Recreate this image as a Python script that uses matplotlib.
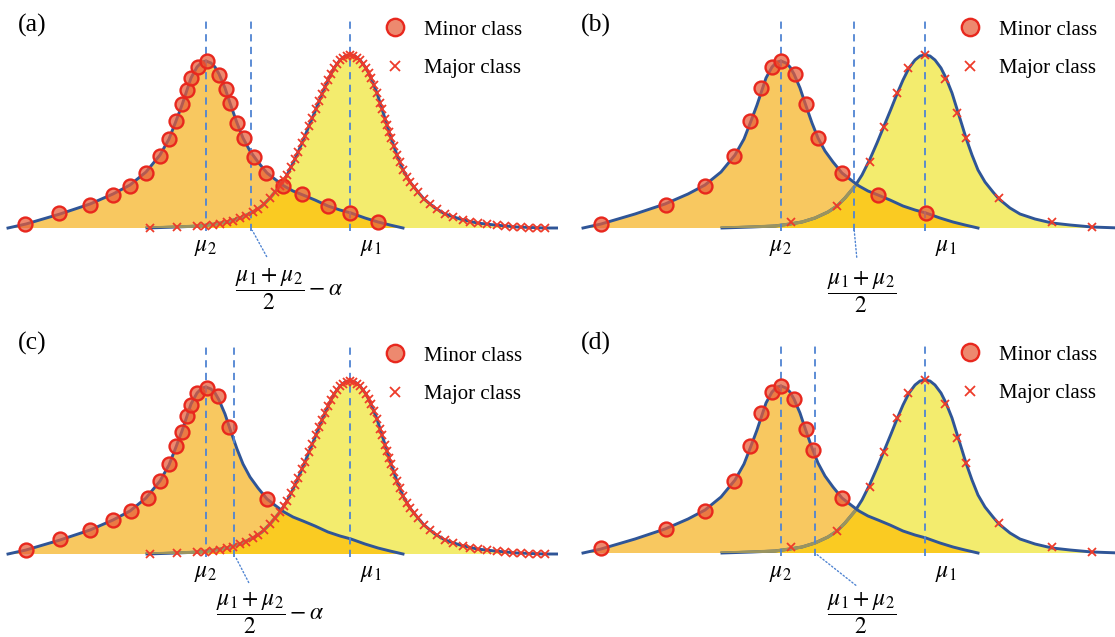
import matplotlib.pyplot as plt

plt.rcParams['font.family'] = 'Liberation Serif'
plt.rcParams['mathtext.fontset'] = 'stix'

# shared density curves (x along the axis, height above baseline)
minor_x = [8, 26, 60, 90, 113, 130, 146, 160, 169, 176, 182, 187, 191, 197, 202, 206, 211, 215, 219,
           225, 230, 237, 243, 250, 258, 267, 276, 284, 293, 303, 315, 328, 340, 351, 365, 378, 390, 403]
minor_h = [0, 4, 14, 24, 34, 43, 56, 73, 89, 107, 123, 138, 150, 161, 166, 167, 165, 161, 154,
           140, 125, 105, 90, 77, 66, 55, 48, 42, 37, 33, 28, 22, 18, 15, 10, 6, 3, 0]

major_x = [147, 177, 200, 215, 227, 240, 253, 262, 270, 280, 287, 295, 302, 309, 316, 322, 328, 334, 340,
           345, 350, 355, 360, 366, 371, 377, 382, 387, 391, 397, 403, 410, 418, 424, 435, 445, 460, 477,
           495, 517, 545, 570]
major_h = [0, 1, 2, 4, 6, 10, 16, 22, 30, 42, 53, 69, 85, 102, 119, 134, 148, 160, 168,
           172, 173, 172, 168, 160, 150, 135, 119, 103, 90, 73, 58, 46, 36, 29, 20, 14, 9, 5,
           3, 1, 0, 0]

# samples drawn on the curves
minor_a_x = [25, 59, 90, 113, 130, 146, 160, 169, 176, 182, 187, 191, 198, 207, 219, 226, 230, 237,
             244, 254, 266, 283, 302, 328, 350, 378]
minor_a_h = [4, 15, 23, 33, 42, 55, 72, 89, 107, 124, 138, 150, 161, 167, 153, 139, 125, 105,
             90, 71, 55, 42, 34, 22, 15, 6]
minor_b_x = [26, 91, 130, 159, 175, 186, 197, 206, 220, 231, 243, 267, 303, 351]
minor_b_h = [4, 23, 42, 72, 107, 140, 161, 167, 154, 124, 90, 55, 33, 15]
minor_c_x = [26, 60, 90, 113, 131, 148, 160, 169, 176, 182, 187, 191, 197, 207, 218, 229, 267]
minor_c_h = [4, 15, 24, 34, 43, 56, 73, 90, 108, 122, 138, 149, 161, 166, 158, 127, 55]
minor_d_x = [26, 91, 130, 159, 175, 186, 197, 206, 219, 231, 238, 267]
minor_d_h = [5, 24, 42, 72, 107, 140, 161, 167, 154, 124, 103, 55]

major_dense_x = [150, 177, 197, 205, 213, 220, 227, 233, 240, 246, 253, 258, 264, 270, 275, 280, 284,
                 287, 291, 295, 298, 302, 305, 309, 312, 316, 319, 322, 325, 328, 331, 334, 337, 340,
                 343, 347, 350, 353, 357, 360, 363, 366, 369, 371, 374, 377, 380, 382, 385, 387, 389,
                 391, 394, 397, 400, 403, 407, 410, 414, 418, 424, 430, 437, 445, 453, 463, 470, 478,
                 487, 497, 505, 513, 521, 529, 537, 545]
major_dense_h = [0, 1, 2, 2, 3, 4, 6, 7, 10, 12, 16, 19, 24, 30, 36, 42, 48,
                 53, 61, 69, 76, 85, 92, 102, 110, 119, 127, 134, 141, 148, 154, 160, 164, 168,
                 170, 172, 173, 172, 170, 168, 164, 160, 155, 150, 143, 135, 125, 119, 109, 103, 96,
                 90, 82, 73, 66, 58, 51, 46, 41, 36, 29, 24, 19, 14, 11, 8, 6, 5,
                 4, 3, 2, 1, 1, 0, 0, 0]
major_sparse_x = [216, 262, 295, 309, 322, 333, 350, 370, 382, 391, 424, 477, 517]
major_sparse_h = [6, 22, 66, 101, 135, 160, 173, 149, 115, 90, 30, 6, 1]

mu2, mu1 = 206, 350
panel_names = ['(a)', '(b)', '(c)', '(d)']
thresholds = [251, 279, 234, 240]
thr_labels = [r'$\dfrac{\mu_1+\mu_2}{2}-\alpha$', r'$\dfrac{\mu_1+\mu_2}{2}$',
              r'$\dfrac{\mu_1+\mu_2}{2}-\alpha$', r'$\dfrac{\mu_1+\mu_2}{2}$']
minor_pts = [(minor_a_x, minor_a_h), (minor_b_x, minor_b_h), (minor_c_x, minor_c_h), (minor_d_x, minor_d_h)]
major_pts = [(major_dense_x, major_dense_h), (major_sparse_x, major_sparse_h),
             (major_dense_x, major_dense_h), (major_sparse_x, major_sparse_h)]

# layout (pixel based)
W, H = 1115, 637
x_shift = [0, 575, 0, 575]
baseline = [228, 228, 554, 553]
label_xy = [(289, -61), (287, -64), (270, -59), (287, -60)]
leader_end = [(268, -31), (282, -32), (250, -31), (283, -34)]
name_x = [18, 23, 18, 23]

c_minor = '#F8C860'
c_major = '#F3EC6E'
c_both = '#FACB22'
c_curve = '#2F5597'
c_dash = '#4F84D2'
c_red = '#E8281E'

fig = plt.figure(figsize=(W / 100, H / 100), dpi=100)

for i in range(4):
    row, col = divmod(i, 2)
    ax = fig.add_axes([col * 0.5, (1 - row) * 0.5, 0.5, 0.5])
    left_px, top_px = col * W / 2, row * H / 2
    ax.set_xlim(left_px - x_shift[i], left_px + W / 2 - x_shift[i])
    ax.set_ylim(baseline[i] - (top_px + H / 2), baseline[i] - top_px)
    ax.axis('off')

    minor_poly = ax.fill(minor_x, minor_h, color=c_minor, lw=0, zorder=1)[0]
    ax.fill(major_x, major_h, color=c_major, lw=0, zorder=1.1)
    both = ax.fill(major_x, major_h, color=c_both, lw=0, zorder=1.2)[0]
    both.set_clip_path(minor_poly)

    ax.plot(major_x, major_h, color=c_curve, lw=2.1, zorder=2)
    hidden = ax.plot(major_x, major_h, color='#9A9460', lw=2.3, zorder=2.1)[0]
    hidden.set_clip_path(minor_poly)
    ax.plot(minor_x, minor_h, color=c_curve, lw=2.1, zorder=2.2)

    ax.vlines([mu2, thresholds[i], mu1], -3, 207, colors=c_dash, linestyles=(0, (4, 3)),
              lw=1.3, zorder=2.5)

    mx, mh = minor_pts[i]
    ax.plot(mx, mh, 'o', ms=10, mfc=(0.90, 0.36, 0.22, 0.72), mec=c_red, mew=1.7,
            zorder=3, label='Minor class')
    jx, jh = major_pts[i]
    ax.plot(jx, jh, 'x', ms=5.5, color='#EE3B2A', mew=1.3, zorder=3.1, label='Major class')

    ax.legend(loc='center left', bbox_to_anchor=(385, 179), bbox_transform=ax.transData,
              frameon=False, fontsize=15, handlelength=1.0, handletextpad=0.85,
              labelspacing=0.9, borderpad=0, borderaxespad=0, markerscale=1.25)

    ax.text(name_x[i] / (W / 2), 1 - 25 / (H / 2), panel_names[i], transform=ax.transAxes,
            fontsize=18.5, va='center', ha='left')

    ax.text(mu2, -20, r'$\mu_2$', fontsize=17, ha='center', va='center')
    ax.text(mu1 + 21, -20, r'$\mu_1$', fontsize=17, ha='center', va='center')
    lx, ly = label_xy[i]
    ax.text(lx, ly, thr_labels[i], fontsize=17, ha='center', va='center')
    ex, ey = leader_end[i]
    ax.annotate('', xy=(thresholds[i], 0), xytext=(ex, ey),
                arrowprops=dict(arrowstyle='-', color=c_dash, lw=1, linestyle=':'))

fig.savefig('out.png', dpi=100)
